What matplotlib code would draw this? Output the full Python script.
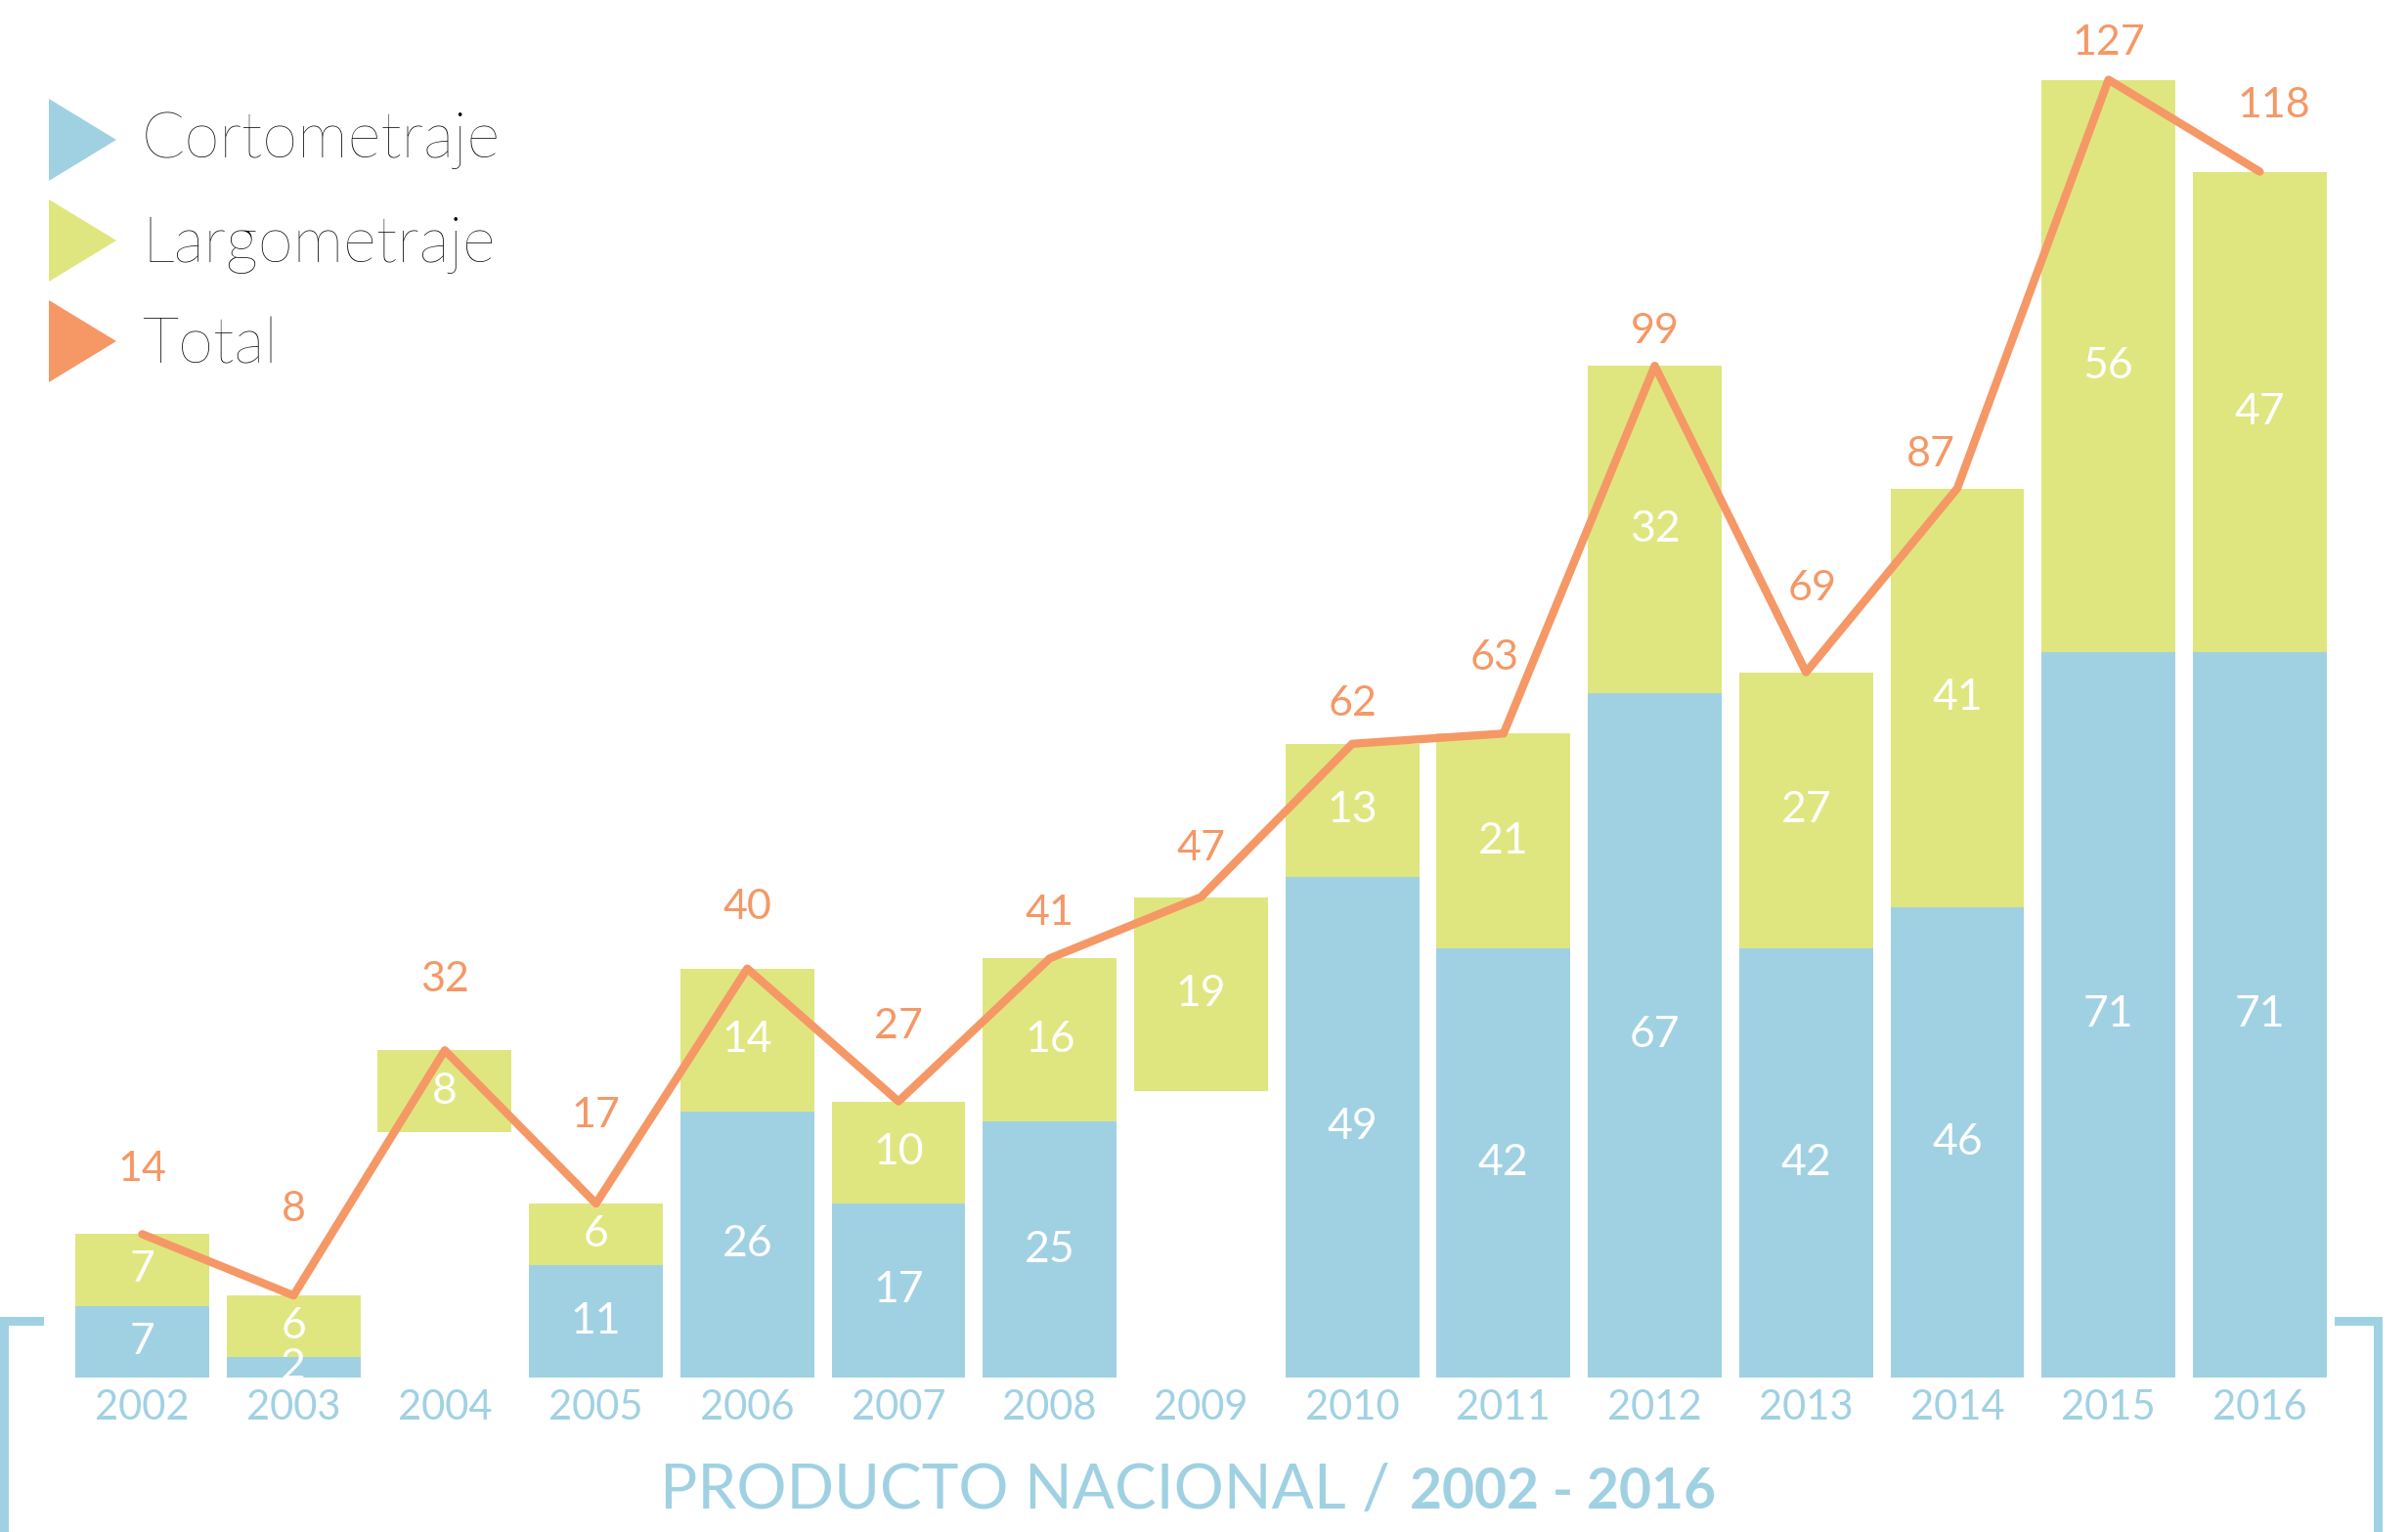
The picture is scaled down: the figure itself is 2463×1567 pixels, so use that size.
import matplotlib
matplotlib.use('Agg')
import matplotlib.pyplot as plt
from matplotlib.patches import Polygon
from matplotlib.lines import Line2D

# ---- data ----
years = ['2002', '2003', '2004', '2005', '2006', '2007', '2008', '2009',
         '2010', '2011', '2012', '2013', '2014', '2015', '2016']
corto = [7, 2, None, 11, 26, 17, 25, None, 49, 42, 67, 42, 46, 71, 71]   # no blue bar drawn for 2004 / 2009
largo = [7, 6, 8, 6, 14, 10, 16, 19, 13, 21, 32, 27, 41, 56, 47]
total = [14, 8, 32, 17, 40, 27, 41, 47, 62, 63, 99, 69, 87, 127, 118]
legend_names = ['Cortometraje', 'Largometraje', 'Total']

# nudges of each total label (pixels), hand placed in the original
label_lift = [66, 88, 72, 90, 63, 77, 46, 50, 41, 77, 35, 86, 35, 38, 68]
label_side = [0, 0, 0, 0, 0, 0, 0, 0, 0, -9, 0, 6, -27, 0, 14]

BLUE = '#a0d1e3'
GREEN = '#dfe67f'
ORANGE = '#f59866'
FONT = 'Lato'

W, H = 2463, 1567
fig = plt.figure(figsize=(W / 100, H / 100), dpi=100)
ax = fig.add_axes([0, 0, 1, 1])
ax.set_xlim(-0.9405, 14.98)
ax.set_ylim(-15.15, 134.8)
ax.axis('off')

x = list(range(len(years)))
bw = 0.885

# cortometraje (blue) bars
for i, v in enumerate(corto):
    if v is None:
        continue
    ax.bar(x[i], v, width=bw, color=BLUE, linewidth=0)
    ax.text(x[i], v / 2, str(v), color='white', fontsize=32, family=FONT,
            ha='center', va='center')

# largometraje (green) bars sit under the total
for i, v in enumerate(largo):
    b = total[i] - v
    ax.bar(x[i], v, bottom=b, width=bw, color=GREEN, linewidth=0)
    ax.text(x[i], b + v / 2, str(v), color='white', fontsize=32, family=FONT,
            ha='center', va='center')

# total line
ax.plot(x, total, color=ORANGE, lw=6, solid_capstyle='round',
        solid_joinstyle='round', zorder=5)
for i, v in enumerate(total):
    ax.annotate(str(v), (x[i], v), xytext=(label_side[i], label_lift[i]),
                textcoords='offset pixels', color=ORANGE, fontsize=31,
                family=FONT, ha='center', va='center', zorder=6)

# year labels
for i, y in enumerate(years):
    ax.text(x[i], -3.0, y, color=BLUE, fontsize=30, family=FONT,
            ha='center', va='center')

# legend triangles + names
def fx(px):
    return px / W

def fy(py):
    return 1 - py / H

tri_tops = [101, 204, 307]
baselines = [161, 268, 372]
for col, t, bl, name in zip([BLUE, GREEN, ORANGE], tri_tops, baselines, legend_names):
    pts = [(fx(50), fy(t)), (fx(50), fy(t + 84)), (fx(119), fy(t + 42))]
    fig.patches.append(Polygon(pts, closed=True, color=col, lw=0,
                               transform=fig.transFigure))
    fig.text(fx(145), fy(bl), name, fontsize=47, family=FONT,
             fontweight='light', color='#000000', va='baseline', ha='left')

# bottom brackets
for xs in ([40, 4, 4], [2392, 2432, 2432]):
    fig.lines.append(Line2D([fx(v) for v in xs], [fy(1351), fy(1351), fy(1575)],
                            color=BLUE, lw=6.5, solid_joinstyle='miter',
                            transform=fig.transFigure))

# title
fig.text(fx(1422), fy(1543), 'PRODUCTO NACIONAL /', fontsize=46, family=FONT,
         color=BLUE, ha='right', va='baseline')
fig.text(fx(1442), fy(1543), '2002 - 2016', fontsize=41, family=FONT,
         fontweight='bold', color=BLUE, ha='left', va='baseline')

fig.savefig('out.png', dpi=100)
